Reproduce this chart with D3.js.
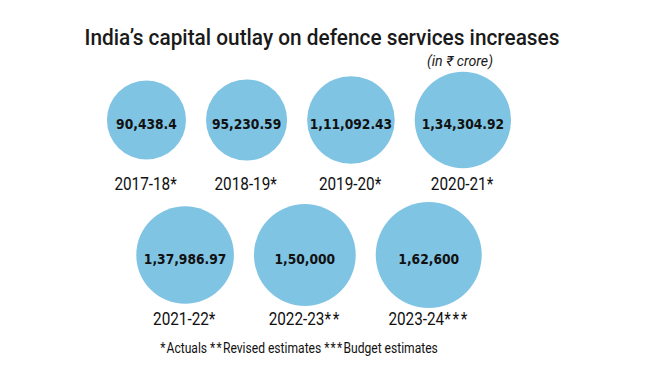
<!DOCTYPE html>
<html lang="en">
<head>
  <meta charset="UTF-8">
  <title>India's capital outlay on defence services increases</title>
  <script src="https://d3js.org/d3.v7.min.js"></script>
  <style>
    body {
      margin: 0;
      background: #fff;
    }
    .title {
      font-family: Roboto, "Noto Sans", sans-serif;
      font-size: 22px;
      font-weight: 500;
      fill: #1a1a1a;
    }
    .unit {
      font-family: Roboto, "Noto Sans", sans-serif;
      font-size: 14px;
      font-style: italic;
      fill: #1a1a1a;
    }
    .value {
      font-family: "DejaVu Sans", sans-serif;
      font-size: 14px;
      font-weight: 700;
      fill: #111;
    }
    .year, .note {
      font-family: Roboto, "Noto Sans", sans-serif;
      fill: #111;
    }
    .year { font-size: 18px; }
    .note { font-size: 15px; }
  </style>
</head>
<body>
  <div id="chart"></div>
  <script>
    const width = 660, height = 371;

    // data
    const years = ["2017-18*", "2018-19*", "2019-20*", "2020-21*", "2021-22*", "2022-23**", "2023-24***"];
    const values = [90438.4, 95230.59, 111092.43, 134304.92, 137986.97, 150000, 162600];
    const valueLabels = ["90,438.4", "95,230.59", "1,11,092.43", "1,34,304.92", "1,37,986.97", "1,50,000", "1,62,600"];
    const rows = [0, 0, 0, 0, 1, 1, 1];
    const notes = [["*", "Actuals "], ["**", "Revised estimates "], ["***", "Budget estimates"]];

    const svg = d3.select("#chart")
      .append("svg")
      .attr("width", width)
      .attr("height", height);

    // squeeze text horizontally (the original uses a condensed face)
    function squeeze(sel, scaleFn) {
      sel.each(function(d) {
        const t = d3.select(this);
        const x = +t.attr("x"), y = +t.attr("y");
        const s = scaleFn(this.getComputedTextLength(), d);
        t.attr("x", 0).attr("y", 0)
         .attr("transform", `translate(${x},${y}) scale(${s},1)`);
      });
    }

    // title
    svg.append("text")
      .attr("class", "title")
      .attr("x", 322).attr("y", 45)
      .attr("text-anchor", "middle")
      .text("India’s capital outlay on defence services increases")
      .call(squeeze, w => 475 / w);

    svg.append("text")
      .attr("class", "unit")
      .attr("x", 460).attr("y", 66)
      .attr("text-anchor", "middle")
      .text("(in ₹ crore)")
      .call(squeeze, w => 66 / w);

    const r = d3.scaleSqrt().domain([0, d3.max(values)]).range([0, 53]);
    const rowY = d3.scaleOrdinal().domain([0, 1]).range([120, 255]);
    const gap = 20, midX = 309;

    const items = years.map((y, i) => ({ year: y, value: values[i], label: valueLabels[i], row: rows[i] }));

    // pack each row side by side, centred on midX
    d3.groups(items, d => d.row).forEach(([row, list]) => {
      const total = d3.sum(list, d => 2 * r(d.value)) + gap * (list.length - 1);
      let x = midX - total / 2;
      list.forEach(d => {
        d.cx = x + r(d.value);
        d.cy = rowY(row);
        x += 2 * r(d.value) + gap;
      });
    });

    const g = svg.selectAll("g.bubble")
      .data(items)
      .join("g")
      .attr("class", "bubble");

    g.append("circle")
      .attr("cx", d => d.cx)
      .attr("cy", d => d.cy)
      .attr("r", d => r(d.value))
      .attr("fill", "#80c4e4");

    g.append("text")
      .attr("class", "value")
      .attr("x", d => d.cx)
      .attr("y", d => d.cy + 9)
      .attr("text-anchor", "middle")
      .text(d => d.label)
      .call(squeeze, () => 0.88);

    // year label, asterisks spaced apart as in the original
    const yearText = g.append("text")
      .attr("class", "year")
      .attr("x", d => d.cx)
      .attr("y", d => d.cy + 69.5)
      .attr("text-anchor", "middle");
    yearText.append("tspan").text(d => d.year.replace(/\*+$/, ""));
    yearText.append("tspan")
      .attr("letter-spacing", 2)
      .text(d => d.year.match(/\*+$/)[0]);
    yearText.call(squeeze, () => 0.85);

    const note = svg.append("text")
      .attr("class", "note")
      .attr("x", 299).attr("y", 353)
      .attr("text-anchor", "middle");
    notes.forEach(([stars, txt]) => {
      note.append("tspan").attr("letter-spacing", 1.5).text(stars);
      note.append("tspan").text(txt);
    });
    note.call(squeeze, w => 278 / w);
  </script>
</body>
</html>
